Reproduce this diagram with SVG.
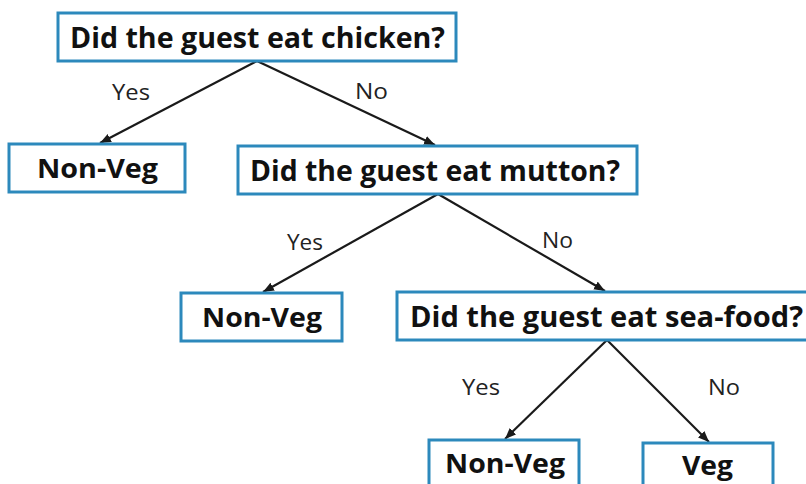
<svg xmlns="http://www.w3.org/2000/svg" width="806" height="484" viewBox="0 0 806 484">
<style>
.box{fill:#fff;stroke:#2C89BC;stroke-width:3}
.q{font-family:"Open Sans","Liberation Sans",sans-serif;font-weight:bold;font-size:28px;fill:#111}
.leaf{font-family:"Open Sans","Liberation Sans",sans-serif;font-weight:bold;font-size:26px;fill:#111}
.lbl{font-family:"Open Sans","Liberation Sans",sans-serif;font-size:21px;fill:#222}
.edge{stroke:#1a1a1a;stroke-width:2.2;fill:none;marker-end:url(#ah)}
</style>
<defs>
<marker id="ah" markerUnits="userSpaceOnUse" markerWidth="12" markerHeight="10" refX="11" refY="4.5" orient="auto">
<path d="M0,0 L11,4.5 L0,9 z" fill="#1a1a1a"/>
</marker>
</defs>
<rect width="806" height="484" fill="#fff"/>
<g id="connectors">
<line class="edge" x1="257" y1="61" x2="100" y2="143"/>
<line class="edge" x1="257" y1="61" x2="435" y2="145"/>
<line class="edge" x1="438" y1="194" x2="263" y2="292"/>
<line class="edge" x1="438" y1="194" x2="605" y2="291"/>
<line class="edge" x1="607" y1="340" x2="505" y2="439"/>
<line class="edge" x1="607" y1="340" x2="709" y2="442"/>
<text class="lbl" x="112" y="100" textLength="38" lengthAdjust="spacingAndGlyphs">Yes</text>
<text class="lbl" x="355" y="99" textLength="33" lengthAdjust="spacingAndGlyphs">No</text>
<text class="lbl" x="287" y="250" textLength="36" lengthAdjust="spacingAndGlyphs">Yes</text>
<text class="lbl" x="542" y="248" textLength="31" lengthAdjust="spacingAndGlyphs">No</text>
<text class="lbl" x="462" y="395" textLength="38" lengthAdjust="spacingAndGlyphs">Yes</text>
<text class="lbl" x="708" y="395" textLength="32" lengthAdjust="spacingAndGlyphs">No</text>
</g>
<g id="q1">
<rect class="box" x="58" y="13" width="398" height="48"/>
<text class="q" x="70" y="48" textLength="375" lengthAdjust="spacingAndGlyphs">Did the guest eat chicken?</text>
</g>
<g id="leaf1">
<rect class="box" x="9" y="144" width="176" height="48"/>
<text class="leaf" x="37" y="178" textLength="121" lengthAdjust="spacingAndGlyphs">Non-Veg</text>
</g>
<g id="q2">
<rect class="box" x="238" y="146" width="399" height="48"/>
<text class="q" x="250" y="181" textLength="370" lengthAdjust="spacingAndGlyphs">Did the guest eat mutton?</text>
</g>
<g id="leaf2">
<rect class="box" x="181" y="293" width="161" height="48"/>
<text class="leaf" x="202" y="327" textLength="120" lengthAdjust="spacingAndGlyphs">Non-Veg</text>
</g>
<g id="q3">
<rect class="box" x="397" y="292" width="418" height="48"/>
<text class="q" x="410" y="327" textLength="393" lengthAdjust="spacingAndGlyphs">Did the guest eat sea-food?</text>
</g>
<g id="leaf3">
<rect class="box" x="429" y="440" width="150" height="48"/>
<text class="leaf" x="445" y="473" textLength="120" lengthAdjust="spacingAndGlyphs">Non-Veg</text>
</g>
<g id="veg">
<rect class="box" x="643" y="443" width="130" height="48"/>
<text class="leaf" x="682" y="475" textLength="51" lengthAdjust="spacingAndGlyphs">Veg</text>
</g>
</svg>
